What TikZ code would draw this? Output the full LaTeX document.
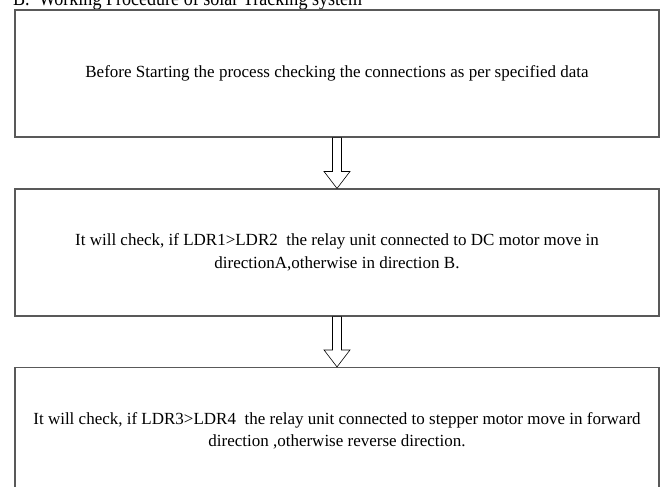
\documentclass[tikz,border=0pt]{standalone}
\usepackage{fontspec}
\usepackage{graphicx}
\setmainfont{Liberation Serif}
\usetikzlibrary{calc}

\tikzset{
  stepbox/.style={draw=black!65, line width=1.1pt, minimum width=644pt, minimum height=127pt,
    inner sep=0pt, align=center, font=\fontsize{17}{22.5}\selectfont},
  blockarrow/.style={draw=black, line width=0.6pt, fill=white}
}

\newcommand{\blockarr}[2]{%
  \draw[blockarrow] ($(#1.south)+(-4.5,0)$) -- ($(#1.south)+(4.5,0)$)
    -- ($(#2.north)+(4.5,-17)$) -- ($(#2.north)+(13,-17)$) -- (#2.north)
    -- ($(#2.north)+(-13,-17)$) -- ($(#2.north)+(-4.5,-17)$) -- cycle;}

\begin{document}
\begin{tikzpicture}[x=1pt,y=-1pt]
            \useasboundingbox (0,0) rectangle (661,487);

            \node[anchor=base west, inner sep=0pt, font=\fontsize{21}{24}\selectfont] (title) at (13,5.5) {\scalebox{0.86}[1]{B.\ \ Working Procedure of solar Tracking system}};

            \node[stepbox] (start) at (337,73.5) {Before Starting the process checking the connections as per specified data};
            \node[stepbox] (dcmotor) at (337,252.5) {It will check, if LDR1>LDR2~ the relay unit connected to DC motor move in\\ directionA,otherwise in direction B.};
            \node[stepbox] (stepper) at (337,431) {It will check, if LDR3>LDR4~ the relay unit connected to stepper motor move in forward\\ direction ,otherwise reverse direction.};

            \blockarr{start}{dcmotor}
            \blockarr{dcmotor}{stepper}
        \end{tikzpicture}
\end{document}
